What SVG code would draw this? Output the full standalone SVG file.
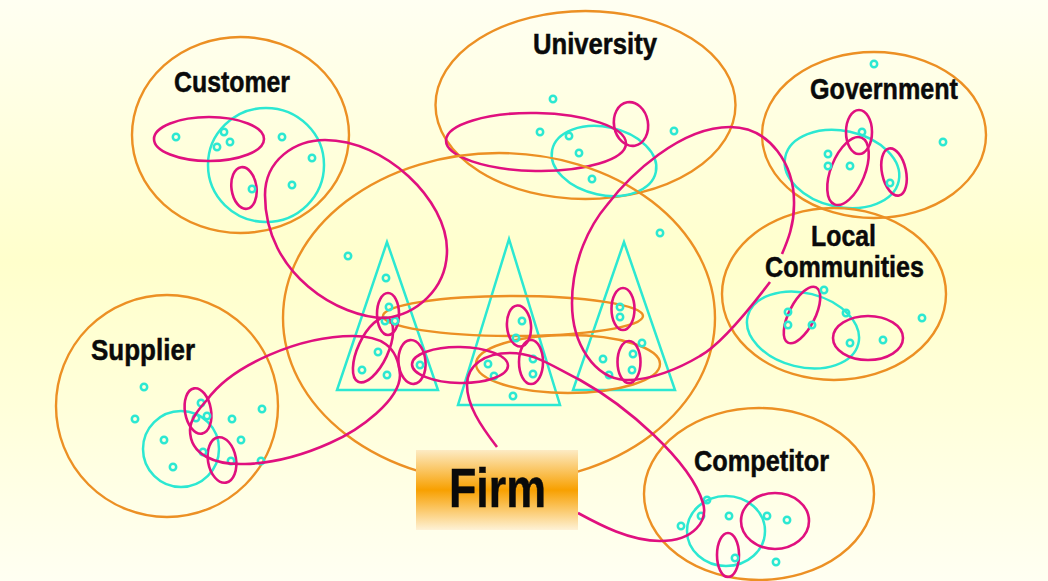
<svg xmlns="http://www.w3.org/2000/svg" width="1048" height="581" viewBox="0 0 1048 581">
<style>
.o{fill:none;stroke:#EC9024;stroke-width:2.4}
.c{fill:none;stroke:#2CE8D2;stroke-width:2.5}
.m{fill:none;stroke:#E0107F;stroke-width:2.6}
.d{fill:none;stroke:#2CE8D2;stroke-width:2.5}
text{font-family:"Liberation Sans",Arial,sans-serif;font-weight:bold;fill:#0a0a0a;stroke:#0a0a0a;stroke-width:0.5}
.l{font-size:30px}
</style>
<defs>
<linearGradient id="bg" x1="0" y1="0" x2="0" y2="1">
<stop offset="0" stop-color="#FFFFF2"/><stop offset="0.45" stop-color="#FFFFCC"/><stop offset="0.7" stop-color="#FFFFDA"/><stop offset="1" stop-color="#FFFFF2"/>
</linearGradient>
<linearGradient id="fb" x1="0" y1="0" x2="0" y2="1">
<stop offset="0" stop-color="#FDEBC4"/><stop offset="0.5" stop-color="#F8A000"/><stop offset="1" stop-color="#FEF2D6"/>
</linearGradient>
<circle id="p" r="3.2" class="d"/>
</defs>
<rect width="1048" height="581" fill="url(#bg)"/>

<g id="customer">
<ellipse class="o" cx="240.500" cy="135" rx="108.500" ry="98"/>
<ellipse class="c" cx="266" cy="165" rx="58" ry="57"/>
<ellipse class="m" cx="209" cy="139" rx="55" ry="22"/>
<ellipse class="m" cx="244" cy="188" rx="12.500" ry="21" transform="rotate(-8 244 188)"/>
<use href="#p" x="176" y="137"/><use href="#p" x="224" y="132"/><use href="#p" x="230" y="142"/><use href="#p" x="217" y="147"/><use href="#p" x="282" y="137"/><use href="#p" x="312" y="158"/><use href="#p" x="292" y="185"/><use href="#p" x="252" y="189"/>
<text class="l" x="174" y="92" textLength="116" lengthAdjust="spacingAndGlyphs">Customer</text>
</g>

<g id="university">
<ellipse class="o" cx="585.500" cy="105" rx="150" ry="94"/>
<ellipse class="c" cx="604" cy="161" rx="53" ry="34" transform="rotate(12 604 161)"/>
<ellipse class="m" cx="536" cy="142" rx="90" ry="29" transform="rotate(1 536 142)"/>
<ellipse class="m" cx="631" cy="124" rx="17" ry="22" transform="rotate(-10 631 124)"/>
<use href="#p" x="553" y="99"/><use href="#p" x="540" y="132"/><use href="#p" x="569" y="136"/><use href="#p" x="579" y="153"/><use href="#p" x="592" y="179"/><use href="#p" x="674" y="131"/>
<text class="l" x="533" y="54" textLength="124" lengthAdjust="spacingAndGlyphs">University</text>
</g>

<g id="government">
<ellipse class="o" cx="874" cy="135" rx="112" ry="83"/>
<ellipse class="c" cx="842" cy="169" rx="58" ry="38" transform="rotate(12 842 169)"/>
<ellipse class="m" cx="859" cy="132" rx="13" ry="22"/>
<ellipse class="m" cx="848" cy="171" rx="17" ry="36" transform="rotate(22 848 171)"/>
<ellipse class="m" cx="894" cy="172" rx="12" ry="24" transform="rotate(-12 894 172)"/>
<use href="#p" x="874" y="64"/><use href="#p" x="943" y="142"/><use href="#p" x="862" y="132"/><use href="#p" x="828" y="154"/><use href="#p" x="828" y="166"/><use href="#p" x="850" y="166"/><use href="#p" x="890" y="183"/>
<text class="l" x="810" y="99" textLength="148" lengthAdjust="spacingAndGlyphs">Government</text>
</g>

<g id="local-communities">
<ellipse class="o" cx="834" cy="294" rx="112" ry="86"/>
<ellipse class="c" cx="803" cy="330" rx="57" ry="37" transform="rotate(14 803 330)"/>
<ellipse class="m" cx="802" cy="315" rx="13" ry="31" transform="rotate(27 802 315)"/>
<ellipse class="m" cx="868" cy="338" rx="35" ry="22"/>
<use href="#p" x="824" y="290"/><use href="#p" x="846" y="313"/><use href="#p" x="788" y="312"/><use href="#p" x="788" y="325"/><use href="#p" x="812" y="325"/><use href="#p" x="850" y="343"/><use href="#p" x="883" y="340"/><use href="#p" x="922" y="318"/>
<text class="l" x="811" y="246" textLength="65" lengthAdjust="spacingAndGlyphs">Local</text>
<text class="l" x="765" y="277" textLength="159" lengthAdjust="spacingAndGlyphs">Communities</text>
</g>

<g id="supplier">
<ellipse class="o" cx="167" cy="406" rx="111" ry="111"/>
<circle class="c" cx="181" cy="449" r="38"/>
<ellipse class="m" cx="198" cy="411" rx="13" ry="23" transform="rotate(-10 198 411)"/>
<ellipse class="m" cx="222" cy="460" rx="14" ry="23" transform="rotate(-10 222 460)"/>
<use href="#p" x="144" y="387"/><use href="#p" x="135" y="419"/><use href="#p" x="164" y="440"/><use href="#p" x="173" y="467"/><use href="#p" x="201" y="403"/><use href="#p" x="196" y="418"/><use href="#p" x="207" y="416"/><use href="#p" x="232" y="419"/><use href="#p" x="262" y="409"/><use href="#p" x="241" y="440"/><use href="#p" x="203" y="452"/><use href="#p" x="231" y="461"/><use href="#p" x="261" y="461"/>
<text class="l" x="91" y="360" textLength="104" lengthAdjust="spacingAndGlyphs">Supplier</text>
</g>

<g id="competitor">
<ellipse class="o" cx="759" cy="494" rx="115" ry="86"/>
<ellipse class="c" cx="726" cy="531" rx="39" ry="35"/>
<ellipse class="m" cx="775" cy="521" rx="34" ry="28"/>
<ellipse class="m" cx="728" cy="555" rx="11" ry="22"/>
<use href="#p" x="707" y="500"/><use href="#p" x="701" y="516"/><use href="#p" x="681" y="526"/><use href="#p" x="729" y="516"/><use href="#p" x="767" y="516"/><use href="#p" x="787" y="520"/><use href="#p" x="735" y="558"/><use href="#p" x="776" y="562"/>
<text class="l" x="694" y="471" textLength="135" lengthAdjust="spacingAndGlyphs">Competitor</text>
</g>

<g id="firm">
<ellipse class="o" cx="499" cy="318" rx="216" ry="165"/>
<polygon class="c" points="387,242 337,390 438,390"/>
<polygon class="c" points="509,239 458,405 560,405"/>
<polygon class="c" points="624,242 573,390 675,390"/>
<ellipse class="o" cx="513" cy="316" rx="130" ry="20"/>
<ellipse class="o" cx="568" cy="364" rx="92" ry="29"/>
<ellipse class="m" cx="388" cy="314" rx="11" ry="21"/>
<ellipse class="m" cx="373" cy="350" rx="15" ry="35" transform="rotate(25 373 350)"/>
<ellipse class="m" cx="412" cy="362" rx="13.500" ry="22" transform="rotate(-5 412 362)"/>
<ellipse class="m" cx="519" cy="326" rx="12" ry="20.500" transform="rotate(-5 519 326)"/>
<ellipse class="m" cx="531" cy="362" rx="12" ry="22"/>
<ellipse class="m" cx="623" cy="309" rx="11.500" ry="21"/>
<ellipse class="m" cx="629" cy="362" rx="11.500" ry="21"/>
<use href="#p" x="348" y="256"/><use href="#p" x="386" y="278"/><use href="#p" x="389" y="307"/><use href="#p" x="385" y="321"/><use href="#p" x="395" y="321"/><use href="#p" x="378" y="352"/><use href="#p" x="362" y="370"/><use href="#p" x="387" y="375"/><use href="#p" x="420" y="365"/><use href="#p" x="488" y="364"/><use href="#p" x="494" y="376"/><use href="#p" x="513" y="396"/><use href="#p" x="522" y="321"/><use href="#p" x="516" y="338"/><use href="#p" x="533" y="359"/><use href="#p" x="533" y="374"/><use href="#p" x="660" y="233"/><use href="#p" x="620" y="307"/><use href="#p" x="620" y="317"/><use href="#p" x="642" y="343"/><use href="#p" x="633" y="354"/><use href="#p" x="632" y="370"/><use href="#p" x="603" y="359"/><use href="#p" x="609" y="375"/>
</g>

<g id="connectors">
<path class="m" d="M385,318 C340,318 265,275 265,195 C265,160 295,140 325,140 C385,140 447,200 447,250 C447,290 415,315 385,318Z"/>
<path class="m" d="M207,400 C232,365 300,336 353,336 C380,336 398,345 400,375 C400,400 360,430 330,443 C310,452 280,463 245,464 C215,465 190,455 190,430 C190,420 198,410 207,400Z"/>
<ellipse class="m" cx="460" cy="365" rx="48" ry="18" transform="rotate(1 460 365)"/>
<path class="m" d="M497,447 C480,425 467,405 467,385 C467,365 485,353 510,353 C535,353 550,365 580,380 C625,405 690,460 703,503 C708,520 695,541 660,541 C630,541 600,525 578,513"/>
<path class="m" d="M770,282 C745,315 720,345 700,356 C680,368 650,381 625,380 C595,378 572,345 572,303 C572,260 590,225 607,205 C630,175 680,127 730,127 C770,127 795,165 794,205 C794,225 788,240 782,254"/>
</g>

<g id="firm-label">
<rect x="416" y="450" width="162" height="80" fill="url(#fb)"/>
<text x="449" y="507" font-size="55" stroke-width="1" textLength="97" lengthAdjust="spacingAndGlyphs">Firm</text>
</g>
</svg>
